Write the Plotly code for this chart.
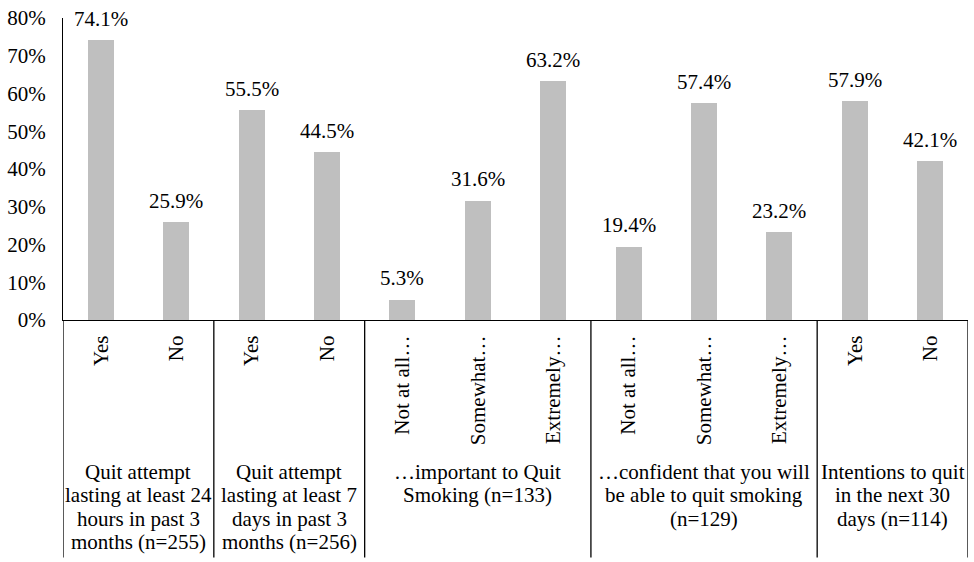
import plotly.graph_objects as go

# Response options (inner axis labels) and percentages
categories = ["Yes", "No", "Yes", "No",
              "Not at all…", "Somewhat…", "Extremely…",
              "Not at all…", "Somewhat…", "Extremely…",
              "Yes", "No"]
values = [74.1, 25.9, 55.5, 44.5, 5.3, 31.6, 63.2, 19.4, 57.4, 23.2, 57.9, 42.1]

# Outer groups: label lines and number of bars in each group
group_labels = [
    ["Quit attempt", "lasting at least 24", "hours in past 3", "months (n=255)"],
    ["Quit attempt", "lasting at least 7", "days in past 3", "months (n=256)"],
    ["…important to Quit", "Smoking (n=133)"],
    ["…confident that you will", "be able to quit smoking", "(n=129)"],
    ["Intentions to quit", "in the next 30", "days (n=114)"],
]
group_sizes = [2, 2, 3, 3, 2]

y_ticks = [0, 10, 20, 30, 40, 50, 60, 70, 80]

FONT = "Times New Roman"
W, H = 974, 562
M_L, M_R, M_T, M_B = 63, 6, 16, 242
plot_h = H - M_T - M_B

def py(pix_y):
    """Convert a pixel row on the page to paper y."""
    return (H - M_B - pix_y) / plot_h

x = list(range(len(values)))

fig = go.Figure(go.Bar(
    x=x,
    y=values,
    width=0.345,
    marker=dict(color="#bfbfbf", line=dict(width=0)),
    hoverinfo="x+y",
))

shapes = []
annotations = []

# Value labels above each bar
for xi, v in zip(x, values):
    annotations.append(dict(
        x=xi, y=v, xref="x", yref="y", text=f"{v:.1f}%",
        showarrow=False, xanchor="center", yanchor="bottom", yshift=7.5,
        font=dict(family=FONT, size=21, color="black"),
    ))

bottom = py(559)

# Group dividers (including both outer edges)
edges = [-0.5]
for n in group_sizes:
    edges.append(edges[-1] + n)
for e in edges:
    shapes.append(dict(type="line", xref="x", yref="paper",
                       x0=e, x1=e, y0=0, y1=bottom,
                       line=dict(color="black", width=1.3)))

# Multi-line group labels, one annotation per line
line_step = 23.6
first_line = 473
for i, lines in enumerate(group_labels):
    cx = (edges[i] + edges[i + 1]) / 2
    for j, t in enumerate(lines):
        annotations.append(dict(
            x=cx, xref="x", y=py(first_line + j * line_step), yref="paper",
            text=t, showarrow=False, xanchor="center", yanchor="middle",
            font=dict(family=FONT, size=21, color="black"),
        ))

fig.update_layout(
    width=W, height=H,
    margin=dict(l=M_L, r=M_R, t=M_T, b=M_B, pad=0),
    paper_bgcolor="white", plot_bgcolor="white",
    showlegend=False,
    bargap=0,
    font=dict(family=FONT, size=21, color="black"),
    shapes=shapes,
    annotations=annotations,
    xaxis=dict(
        range=[-0.5, len(values) - 0.5],
        tickmode="array", tickvals=x, ticktext=categories,
        tickangle=-90, ticks="", showgrid=False, zeroline=False,
        showline=True, linecolor="black", linewidth=1.3,
        tickfont=dict(family=FONT, size=21, color="black"),
        ticklabelstandoff=6,
    ),
    yaxis=dict(
        range=[0, 80], tickmode="array", tickvals=y_ticks,
        ticktext=[f"{v}%" for v in y_ticks],
        ticks="", showgrid=False, zeroline=False,
        showline=True, linecolor="black", linewidth=1.3,
        tickfont=dict(family=FONT, size=21, color="black"),
        ticklabelstandoff=12,
    ),
)

fig.write_html("out.html")
